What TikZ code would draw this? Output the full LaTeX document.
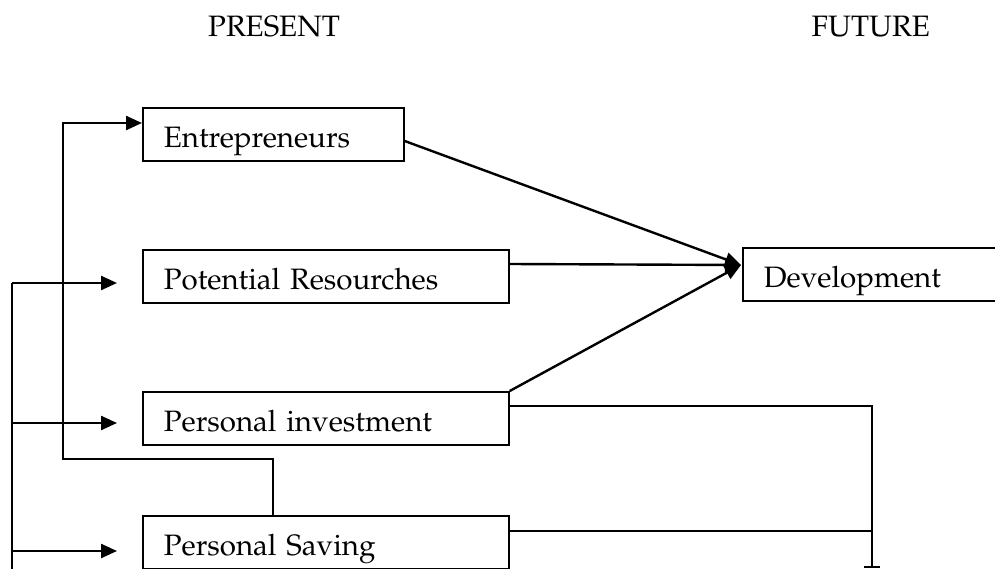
\documentclass[tikz,border=0pt]{standalone}
\usepackage[T1]{fontenc}
\usepackage{mathpazo}
\usetikzlibrary{arrows.meta}
\begin{document}
\begin{tikzpicture}[x=1pt,y=-1pt,
  every node/.style={font=\fontsize{29.5}{33}\selectfont},
  stage/.style={draw, line width=1.7pt, anchor=north west, inner ysep=0pt,
    inner xsep=21pt, text height=40pt, text depth=13pt, align=left},
  flow/.style={line width=2.4pt},
  feed/.style={line width=2.4pt, -{Triangle[length=16pt,width=14pt]}},
  title/.style={anchor=base, inner sep=0pt}]
\useasboundingbox (0,0) rectangle (995,569);
\clip (0,0) rectangle (995,569);

% column headings
\node[title, anchor=base west] (present) at (208,37) {PRESENT};
\node[title, anchor=base east] (future) at (930,37) {FUTURE};

% stages
\node[stage, text width=219pt] (ent) at (142,107) {Entrepreneurs};
\node[stage, text width=324pt] (pot) at (142,249) {Potential Resourches};
\node[stage, text width=324pt] (inv) at (142,391) {Personal investment};
\node[stage, text width=324pt] (sav) at (142,515) {Personal Saving};
\node[stage, text width=220pt] (dev) at (742,247) {Development};

% meeting point of the three inputs to Development
\coordinate (tip) at (741,265);

\draw[feed] (ent.east |- 0,141) -- (tip);
\draw[feed] (pot.east |- 0,264) -- (tip);
\draw[feed] (inv.north east) -- (tip);

% outer feedback rail on the left
\coordinate (railtop) at (12,283);
\coordinate (railbot) at (12,569);
\coordinate (a1) at (117,283);
\coordinate (a2) at (117,423);
\coordinate (a3) at (117,551);
\draw[flow] (railtop) -- (railbot);
\draw[feed] (railtop) -- (a1);
\draw[feed] (railtop |- a2) -- (a2);
\draw[feed] (railtop |- a3) -- (a3);

% saving feeds back to entrepreneurs
\coordinate (savtap) at ([xshift=131pt]sav.north west);
\draw[feed] (savtap) -- (savtap |- 0,459) -- (63,459) -- (63,123) -- (ent.west |- 0,123);

% right-hand return line
\coordinate (rr) at (872,406);
\coordinate (rb) at (872,567);
\draw[flow] (inv.north east |- rr) -- (rr) -- (rb);
\draw[flow] (sav.east |- 0,531) -- (rr |- 0,531);
\draw[flow] ([xshift=-8pt]rb) -- ([xshift=8pt]rb);
\end{tikzpicture}
\end{document}
